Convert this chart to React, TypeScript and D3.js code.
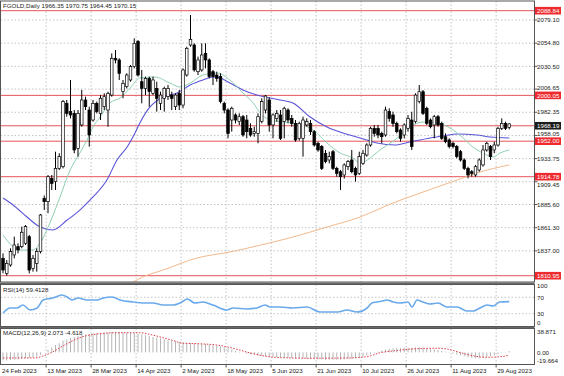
import React from "react";
import * as d3 from "d3";

const W = 564;
const H = 376;

// Daily OHLC candles [open, high, low, close]
const candles: [number, number, number, number][] = [
  [1829.2, 1834.4, 1813.4, 1816.9], [1813.4, 1827.4, 1811.0, 1823.9], [1822.2, 1839.7, 1820.4, 1836.2],
  [1832.7, 1851.9, 1829.2, 1843.2], [1841.4, 1844.9, 1834.4, 1837.9], [1841.4, 1862.4, 1839.7, 1856.5],
  [1845.0, 1864.1, 1843.2, 1862.4], [1851.9, 1853.6, 1813.4, 1816.9], [1818.7, 1832.7, 1815.2, 1829.2],
  [1823.9, 1839.7, 1815.2, 1836.2], [1836.2, 1875.7, 1834.4, 1874.6], [1892.1, 1895.1, 1879.9, 1888.6],
  [1888.6, 1916.6, 1876.4, 1914.8], [1913.1, 1916.6, 1900.8, 1907.8], [1909.6, 1941.0, 1900.8, 1923.5],
  [1923.5, 1939.3, 1921.8, 1935.8], [1925.3, 1995.2, 1923.5, 1993.5], [1991.7, 1995.2, 1977.7, 1981.2],
  [1983.0, 2016.2, 1975.9, 1979.5], [1981.2, 1984.7, 1939.3, 1942.8], [1944.5, 1984.7, 1935.8, 1981.2],
  [1969.0, 2005.7, 1967.2, 1995.2], [1995.2, 1998.7, 1984.7, 1988.2], [1984.7, 1988.2, 1946.3, 1958.5],
  [1974.2, 1995.2, 1972.5, 1991.7], [1991.7, 1993.5, 1981.2, 1983.0], [1981.2, 2000.4, 1974.2, 1997.0],
  [1988.2, 2002.2, 1984.7, 1998.7], [1984.7, 2003.9, 1967.2, 2002.2], [2000.4, 2044.1, 1998.7, 2038.9],
  [2038.9, 2047.6, 2033.6, 2037.2], [2037.2, 2038.9, 2016.2, 2023.2], [2004.0, 2016.2, 1997.0, 2012.7],
  [2009.2, 2023.2, 2007.4, 2021.4], [2016.2, 2031.9, 2014.4, 2030.2], [2030.2, 2059.9, 2028.4, 2054.6],
  [2056.4, 2058.1, 2019.7, 2021.4], [2014.4, 2026.7, 1991.7, 2007.4], [2007.4, 2019.7, 2000.4, 2017.9],
  [2017.9, 2019.7, 1988.2, 2004.0], [2002.2, 2019.7, 2000.4, 2016.2], [2007.4, 2014.4, 1983.0, 1996.9],
  [1991.7, 2003.9, 1984.7, 2000.4], [1996.9, 2009.2, 1983.0, 2007.4], [1998.7, 2011.0, 1995.2, 2007.4],
  [2000.4, 2003.9, 1984.7, 1996.9], [1988.2, 2002.2, 1984.7, 2000.4], [2002.2, 2005.7, 1984.7, 1989.9],
  [1989.9, 2028.4, 1986.5, 2026.7], [2021.4, 2051.1, 2019.7, 2049.4], [2052.9, 2084.3, 2051.1, 2058.8],
  [2052.9, 2054.6, 2024.9, 2026.7], [2024.9, 2040.7, 2021.4, 2037.2], [2026.7, 2054.6, 2024.9, 2042.4],
  [2044.1, 2054.6, 2028.4, 2037.2], [2037.2, 2038.9, 2017.9, 2019.7], [2024.9, 2026.7, 2010.9, 2019.7],
  [2021.4, 2024.9, 2014.4, 2017.9], [2019.7, 2023.2, 1991.7, 1993.5], [1991.7, 1993.5, 1981.2, 1984.7],
  [1984.7, 1986.5, 1955.0, 1960.2], [1974.2, 1988.2, 1962.0, 1986.5], [1979.5, 1981.2, 1970.7, 1974.2],
  [1972.5, 1981.2, 1968.9, 1977.7], [1977.7, 1979.5, 1956.7, 1958.5], [1974.2, 1979.5, 1955.0, 1962.0],
  [1965.5, 1970.7, 1956.7, 1958.5], [1960.2, 1967.2, 1956.7, 1962.0], [1960.2, 1981.2, 1949.8, 1977.7],
  [1972.5, 1996.9, 1970.7, 1993.5], [1984.7, 2000.4, 1981.2, 1999.4], [1995.2, 1998.0, 1962.0, 1969.0],
  [1969.0, 1981.2, 1955.0, 1979.5], [1975.9, 1984.7, 1972.5, 1981.2], [1979.5, 1984.7, 1953.3, 1955.0],
  [1972.5, 1988.2, 1955.0, 1986.5], [1984.7, 1986.5, 1970.7, 1974.2], [1975.9, 1979.5, 1967.2, 1970.7],
  [1970.7, 1974.2, 1951.5, 1953.3], [1955.0, 1972.5, 1952.6, 1970.7], [1955.0, 1977.7, 1935.8, 1974.2],
  [1969.0, 1975.9, 1967.2, 1972.5], [1970.7, 1974.2, 1958.5, 1962.0], [1962.0, 1963.7, 1946.3, 1948.0],
  [1949.8, 1951.5, 1941.0, 1942.8], [1946.3, 1948.0, 1921.8, 1923.5], [1939.3, 1942.8, 1928.8, 1930.6],
  [1932.3, 1941.0, 1928.8, 1935.8], [1941.0, 1942.8, 1921.8, 1923.5], [1923.5, 1925.3, 1914.8, 1918.3],
  [1920.0, 1921.8, 1900.8, 1914.8], [1916.6, 1928.8, 1912.8, 1927.1], [1925.3, 1932.3, 1921.8, 1930.6],
  [1932.3, 1942.8, 1918.3, 1920.0], [1923.5, 1925.3, 1909.6, 1916.6], [1918.3, 1941.0, 1916.6, 1935.8],
  [1928.8, 1942.8, 1927.1, 1939.3], [1937.5, 1949.8, 1935.8, 1948.0], [1948.0, 1967.2, 1946.3, 1965.5],
  [1965.5, 1969.0, 1956.7, 1960.2], [1965.5, 1969.0, 1955.0, 1958.5], [1960.2, 1962.0, 1949.8, 1956.7],
  [1958.5, 1988.2, 1956.7, 1984.7], [1983.0, 1986.5, 1972.5, 1975.9], [1979.5, 1983.0, 1967.2, 1970.7],
  [1970.7, 1972.5, 1960.2, 1962.0], [1963.7, 1965.5, 1951.5, 1955.0], [1958.5, 1970.7, 1955.0, 1969.0],
  [1965.5, 1979.5, 1962.0, 1975.9], [1974.2, 1982.9, 1942.8, 1946.3], [1972.5, 2002.2, 1970.7, 2000.4],
  [1993.5, 2010.9, 1991.7, 2003.9], [2003.9, 2005.7, 1979.5, 1981.2], [1986.5, 1988.2, 1969.0, 1970.7],
  [1974.2, 1975.9, 1965.5, 1967.2], [1969.0, 1979.5, 1955.0, 1977.7], [1977.7, 1979.5, 1967.2, 1969.0],
  [1970.7, 1972.5, 1953.3, 1955.0], [1956.7, 1960.2, 1949.8, 1951.5], [1953.3, 1955.0, 1944.5, 1946.3],
  [1949.8, 1951.5, 1944.5, 1946.3], [1946.3, 1948.0, 1934.0, 1935.8], [1941.0, 1942.8, 1930.6, 1932.3],
  [1932.3, 1934.0, 1921.8, 1923.5], [1923.5, 1925.3, 1913.1, 1916.6], [1920.0, 1921.8, 1914.8, 1918.3],
  [1916.6, 1927.1, 1914.8, 1925.3], [1921.8, 1934.0, 1920.0, 1932.3], [1927.1, 1948.0, 1925.3, 1942.8],
  [1942.8, 1951.5, 1941.0, 1949.8], [1946.3, 1948.0, 1932.3, 1935.8], [1942.8, 1951.5, 1939.3, 1948.0],
  [1948.0, 1967.2, 1946.3, 1965.5], [1965.5, 1975.9, 1963.7, 1970.7], [1970.7, 1972.5, 1963.7, 1965.5],
  [1966.35, 1970.75, 1964.45, 1970.15],
];

const dateLabels = [
  "24 Feb 2023", "13 Mar 2023", "28 Mar 2023", "14 Apr 2023", "2 May 2023", "18 May 2023",
  "5 Jun 2023", "21 Jun 2023", "10 Jul 2023", "26 Jul 2023", "11 Aug 2023", "29 Aug 2023",
];

const priceTicks = [2079.1, 2054.8, 2030.5, 2006.65, 1982.35, 1958.05, 1933.75, 1909.45, 1885.6, 1861.3, 1837.0];
const priceTickLabels = ["2079.10", "2054.80", "2030.50", "2006.65", "1982.35", "1958.05", "1933.75", "1909.45", "1885.60", "1861.30", "1837.00"];
const levelLines = [2088.84, 2000.05, 1968.19, 1952.0, 1914.78, 1810.95];
const levelLabels = ["2088.84", "2000.05", "1968.19", "1952.00", "1914.78", "1810.95"];

// Moving averages [bar index, price]
const maFast: [number, number][] = [
  [0, 1853.6], [4.5, 1837.9], [8, 1837.9], [9.9, 1845.3], [12.5, 1866.2], [15.2, 1893.5], [17.9, 1921.8],
  [20.5, 1939.6], [22.4, 1953.3], [24, 1966.9], [25.9, 1977.4], [28.5, 1992.1], [31.2, 1997.3], [33.9, 2007.8],
  [36.5, 2018.3], [40.5, 2019.3], [44.5, 2013.0], [47.2, 2008.8], [49.9, 2013.0], [53.3, 2021.4], [57.1, 2023.5],
  [60.5, 2016.2], [64, 2002.5], [66.7, 1992.1], [69, 1979.5], [72.5, 1973.2], [77.3, 1971.1], [82.7, 1963.7],
  [86.4, 1950.1], [89.9, 1939.6], [93.3, 1934.4], [95.2, 1929.1], [97.9, 1934.4], [100.5, 1942.8], [104.5, 1953.3],
  [108.5, 1966.9], [112, 1972.1], [115.7, 1971.1], [119.2, 1965.8], [122.7, 1955.4], [125.3, 1945.9], [128, 1939.6],
  [130.7, 1935.4], [132.5, 1939.6], [135, 1942.8],
];
const maMid: [number, number][] = [
  [0, 1892.4], [2.7, 1885.1], [6.4, 1872.5], [9.9, 1862.0], [13.3, 1858.9], [17.1, 1869.3], [20.5, 1879.8],
  [24, 1893.5], [27.7, 1911.3], [30.4, 1932.3], [33.1, 1945.9], [35.2, 1960.6], [36.5, 1971.1], [39.2, 1987.9],
  [42.7, 1998.4], [46.4, 2002.5], [49.9, 2010.9], [53.3, 2016.2], [56, 2019.3], [57.9, 2018.3], [60.5, 2013.0],
  [64, 2005.7], [67.7, 2000.4], [73.9, 1995.2], [77.3, 1992.1], [81.9, 1977.4], [86.4, 1966.9], [90.7, 1960.6],
  [95.2, 1955.4], [99.7, 1950.1], [104.5, 1948.0], [108.5, 1951.2], [113.9, 1955.4], [117.3, 1957.5],
  [121.1, 1959.6], [126.4, 1958.5], [129.9, 1956.4], [135, 1955.4],
];
const maSlow: [number, number][] = [
  [33, 1801.0], [35.2, 1805.4], [37.3, 1809.6], [42.7, 1816.9], [51.7, 1829.5], [60.5, 1835.8], [69.9, 1844.2],
  [77.3, 1851.5], [86.4, 1862.0], [95.2, 1872.5], [104, 1887.2], [112, 1898.7], [121.1, 1911.3], [126.4, 1918.7],
  [135, 1927.1],
];

// RSI(14) [bar index, value]
const rsi: [number, number][] = [
  [0, 31.7], [1.9, 43.9], [3.7, 43.9], [5.3, 51.2], [7.2, 39], [9.1, 43.9], [10.7, 63.4], [13.3, 68.3],
  [15.7, 75.6], [17.1, 70.7], [18.4, 63.4], [20, 68.3], [22.4, 63.4], [25.1, 63.4], [26.7, 68.3], [29.1, 70.7],
  [31.2, 63.4], [34.7, 58.5], [37.3, 56.1], [40, 56.1], [42.7, 51.2], [45.3, 51.2], [47.7, 58.5], [49.1, 65.9],
  [51.2, 56.1], [53.3, 58.5], [56, 51.2], [59.7, 39], [61.3, 43.9], [65.1, 41.5], [67.7, 43.9], [69.9, 51.2],
  [71.2, 46.3], [73.9, 46.3], [77.3, 43.9], [81.1, 46.3], [84.5, 34.1], [89.3, 34.1], [91.7, 39], [94.4, 34.1],
  [97.1, 43.9], [98.4, 56.1], [99.7, 58.5], [101.3, 61], [102.4, 63.4], [104, 58.5], [105.9, 56.1], [108, 58.5],
  [109.1, 46.3], [110.4, 63.4], [112, 58.5], [113.9, 53.7], [116, 56.1], [118.4, 46.3], [121.1, 46.3],
  [123.7, 36.6], [125.3, 36.6], [127.2, 43.9], [129.1, 51.2], [130.7, 48.8], [132.5, 58.5], [135, 59.4128],
];

// MACD(12,26,9) main histogram per bar
const macdHist: number[] = [
  -13, -13, -12.5, -12, -11.5, -10.5, -9.5, -9, -8.5, -7, -4, 0, 4, 8, 12, 15, 19, 21, 23, 25,
  26.5, 28, 29, 30, 31, 31.5, 32, 32, 32.5, 33, 33.5, 33.5, 33, 32.5, 32, 31.5, 30.5, 29.5, 28, 26.5,
  25, 24, 23, 21.5, 20, 19, 18, 17, 16.5, 16, 15.5, 15, 14.5, 14, 13.5, 13, 12.5, 11.5, 10, 8.5,
  6.5, 4.5, 2.5, 1, -0.5, -2, -3, -4, -5, -5.5, -6, -6.5, -7, -7.5, -8, -8.5, -9, -9.5, -10, -10,
  -10.5, -10.5, -11, -11, -11.5, -11.5, -12, -12, -12, -12, -12, -11.5, -11, -10.5, -9.5, -8.5, -7, -5, -3, -1,
  1, 3, 4.5, 5.5, 6.5, 7, 7, 7.5, 7.5, 7.5, 8, 8.5, 8, 7, 6, 5, 4, 2.5, 1, -0.5,
  -2, -3.5, -5, -6.5, -8, -9, -9.5, -9.5, -9, -8, -6.5, -5, -3, -1, 0.5, 2.073,
];
const macdSignal: [number, number][] = [
  [0, -9], [8, -9], [12.5, -1.5], [17, 14], [21, 25], [26, 30.5], [30, 32], [36.5, 32], [40, 28], [45, 20],
  [48, 15], [52.5, 14], [57, 12], [61.3, 6.8], [66, -1], [70.4, -6.5], [74, -8.5], [83, -9.5], [92, -9],
  [97, -7], [100.5, -0.6], [105, 3], [109.3, 5.7], [115.7, 6.8], [118.4, 5.5], [121.9, -0.2], [125.3, -5.4],
  [129, -8], [132.5, -7], [135, -4.618],
];

const FONT = "'Liberation Sans', Arial, sans-serif";
const FS = 6.2;

export default function App() {
  const left = 0.5;
  const right = 534.5;
  const main = { top: 1, bottom: 282 };
  const rsiP = { top: 284.5, bottom: 326.5 };
  const macdP = { top: 328.5, bottom: 364.5 };

  const x = d3.scaleLinear().domain([0, 135]).range([3, 509.25]);
  const y = d3.scaleLinear().domain([1804.35, 2099.01]).range([282, 1]);
  const yr = d3.scaleLinear().domain([0, 100]).range([326, 285]);
  const ym = d3.scaleLinear().domain([-19.664, 38.871]).range([364.5, 328.5]);

  const gridX = d3.range(1, 12).map((k) => x(12 * k - 0.5));
  const labelX = d3.range(0, 12).map((k) => x(12 * k - 0.5) + 1);
  labelX[0] = 2;

  const lineMain = d3.line<[number, number]>().x((d) => x(d[0])).y((d) => y(d[1])).curve(d3.curveMonotoneX);
  const lineRsi = d3.line<[number, number]>().x((d) => x(d[0])).y((d) => yr(d[1])).curve(d3.curveMonotoneX);
  const lineSig = d3.line<[number, number]>().x((d) => x(d[0])).y((d) => ym(d[1])).curve(d3.curveMonotoneX);

  const gridStyle = { stroke: "#c4c4c4", strokeWidth: 1, strokeDasharray: "1.5,2" };

  const panels = [main, rsiP, macdP];

  // nudge scale labels that sit under a red level box
  const labelY = (p: number) => {
    let ty = y(p) + 2.2;
    for (const lv of levelLines) {
      const d = y(p) - y(lv);
      if (Math.abs(d) < 7.8) ty = y(lv) + (d > 0 ? 7.8 : -7.8) + 2.2;
    }
    return ty;
  };

  return (
    <svg width={W} height={H} style={{ position: "absolute", left: 0, top: 0, background: "#fff" }} fontFamily={FONT}>
      <defs>
        <clipPath id="mainClip">
          <rect x={left} y={main.top} width={right - left} height={main.bottom - main.top} />
        </clipPath>
      </defs>
      <rect x={0} y={0} width={W} height={H} fill="#fff" />

      {/* vertical grid */}
      {panels.map((p, pi) =>
        gridX.map((gx, i) => (
          <line key={`vg${pi}-${i}`} x1={gx} x2={gx} y1={p.top} y2={p.bottom} {...gridStyle} />
        ))
      )}
      {/* horizontal grid main */}
      {priceTicks.map((p, i) => (
        <line key={`hg${i}`} x1={left} x2={right} y1={y(p)} y2={y(p)} {...gridStyle} />
      ))}
      {/* RSI levels */}
      {[70, 30].map((v) => (
        <line key={`rl${v}`} x1={left} x2={right} y1={yr(v)} y2={yr(v)} {...gridStyle} />
      ))}

      {/* red horizontal levels */}
      {levelLines.map((p, i) => (
        <line key={`lv${i}`} x1={left} x2={right} y1={y(p)} y2={y(p)} stroke="#e5545a" strokeWidth={1} />
      ))}

      <g clipPath="url(#mainClip)">
        <path d={lineMain(maSlow) || ""} fill="none" stroke="#f2b88c" strokeWidth={1} />
        <path d={lineMain(maMid) || ""} fill="none" stroke="#5a55d8" strokeWidth={1.1} />
        <path d={lineMain(maFast) || ""} fill="none" stroke="#8fd0b0" strokeWidth={1} />
        {candles.map((c, i) => {
          const [o, h, l, cl] = c;
          const cx = x(i);
          const bull = cl >= o;
          const top = y(Math.max(o, cl));
          const bot = y(Math.min(o, cl));
          return (
            <g key={`c${i}`}>
              <line x1={cx} x2={cx} y1={y(h)} y2={y(l)} stroke="#000" strokeWidth={1} />
              <rect
                x={cx - 1.3}
                y={top}
                width={2.6}
                height={Math.max(0.8, bot - top)}
                fill={bull ? "#fff" : "#000"}
                stroke="#000"
                strokeWidth={0.7}
              />
            </g>
          );
        })}
      </g>

      {/* RSI */}
      <path d={lineRsi(rsi) || ""} fill="none" stroke="#6aaaea" strokeWidth={1.6} />

      {/* MACD histogram */}
      {macdHist.map((v, i) => (
        <line key={`mh${i}`} x1={x(i)} x2={x(i)} y1={ym(0)} y2={ym(v)} stroke="#b4b4b4" strokeWidth={1} />
      ))}
      <path d={lineSig(macdSignal) || ""} fill="none" stroke="#e0404a" strokeWidth={1} strokeDasharray="1.5,1.5" />

      {/* panel frames */}
      {panels.map((p, i) => (
        <rect key={`pf${i}`} x={left} y={p.top} width={right - left} height={p.bottom - p.top} fill="none" stroke="#555" strokeWidth={1} />
      ))}
      <line x1={0} x2={right} y1={283.2} y2={283.2} stroke="#666" strokeWidth={1.5} />
      <line x1={0} x2={right} y1={327.5} y2={327.5} stroke="#666" strokeWidth={1.5} />

      {/* bottom ticks and dates */}
      {gridX.map((gx, i) => (
        <line key={`bt${i}`} x1={gx} x2={gx} y1={macdP.bottom} y2={macdP.bottom + 3} stroke="#555" />
      ))}
      {dateLabels.map((d, i) => (
        <text key={`dl${i}`} x={labelX[i]} y={373} fontSize={FS} fill="#222">
          {d}
        </text>
      ))}

      {/* right price scale */}
      {priceTicks.map((p, i) => (
        <g key={`pt${i}`}>
          <line x1={right} x2={right + 3} y1={y(p)} y2={y(p)} stroke="#555" />
          <text x={537} y={labelY(p)} fontSize={FS} fill="#222">
            {priceTickLabels[i]}
          </text>
        </g>
      ))}
      {levelLines.map((p, i) => (
        <g key={`lb${i}`}>
          <rect x={535} y={y(p) - 3.8} width={26} height={7.6} fill={levelLabels[i] === "1968.19" ? "#1c1c1c" : "#ee2a2f"} />
          <text x={537} y={y(p) + 2.2} fontSize={FS} fill="#fff">
            {levelLabels[i]}
          </text>
        </g>
      ))}

      {/* RSI scale */}
      {[
        [100, 287.5],
        [70, yr(70) + 2.2],
        [30, yr(30) + 2.2],
        [0, 324.5],
      ].map(([v, ty]) => (
        <text key={`rs${v}`} x={537} y={ty} fontSize={FS} fill="#222">
          {v}
        </text>
      ))}
      {/* MACD scale */}
      <text x={537} y={334} fontSize={FS} fill="#222">38.871</text>
      <text x={537} y={ym(0) + 2.2} fontSize={FS} fill="#222">0.00</text>
      <text x={537} y={362.5} fontSize={FS} fill="#222">-19.664</text>

      {/* titles */}
      <text x={3} y={8} fontSize={FS} fill="#222">FGOLD,Daily  1966.35 1970.75 1964.45 1970.15</text>
      <text x={3} y={291.5} fontSize={FS} fill="#222">RSI(14) 59.4128</text>
      <text x={3} y={335} fontSize={FS} fill="#222">MACD(12,26,9) 2.073 -4.618</text>
    </svg>
  );
}
